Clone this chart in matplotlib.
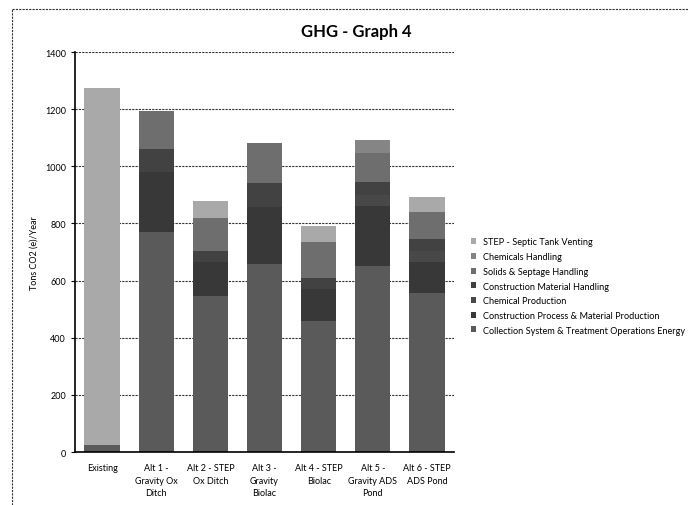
import matplotlib.pyplot as plt
import numpy as np

plt.rcParams['font.family'] = ['Lato', 'DejaVu Sans']

categories = ["Existing", "Alt 1 -\nGravity Ox\nDitch", "Alt 2 - STEP\nOx Ditch",
              "Alt 3 -\nGravity\nBiolac", "Alt 4 - STEP\nBiolac",
              "Alt 5 -\nGravity ADS\nPond", "Alt 6 - STEP\nADS Pond"]

# stacked from bottom to top
collection_energy = [25, 770, 546, 658, 458, 650, 555]
construction_process = [0, 210, 119, 200, 112, 210, 110]
chemical_production = [0, 0, 0, 0, 0, 40, 40]
construction_handling = [0, 80, 40, 83, 40, 45, 40]
solids_septage = [0, 135, 114, 140, 125, 102, 95]
chemicals_handling = [0, 0, 0, 0, 0, 45, 0]
step_venting = [1250, 0, 61, 0, 57, 0, 52]

series = [
    ("Collection System & Treatment Operations Energy", collection_energy, "#5a5a5a"),
    ("Construction Process & Material Production", construction_process, "#383838"),
    ("Chemical Production", chemical_production, "#484848"),
    ("Construction Material Handling", construction_handling, "#424242"),
    ("Solids & Septage Handling", solids_septage, "#6e6e6e"),
    ("Chemicals Handling", chemicals_handling, "#858585"),
    ("STEP - Septic Tank Venting", step_venting, "#a9a9a9"),
]

fig = plt.figure(figsize=(6.88, 5.06), dpi=100)
ax = fig.add_axes([0.109, 0.1047, 0.551, 0.7905])

x = np.arange(len(categories))
bottom = np.zeros(len(categories))
handles = []
for name, vals, col in series:
    b = ax.bar(x, vals, 0.65, bottom=bottom, color=col, label=name, zorder=2)
    handles.append(b)
    bottom += np.array(vals)

ax.set_ylim(0, 1400)
ax.set_xlim(-0.5, 6.5)
ax.set_yticks(range(0, 1401, 200))
ax.set_xticks(x)
ax.set_xticklabels(categories, fontsize=6.5, linespacing=1.5)
ax.tick_params(axis='y', labelsize=6.5, length=3)
ax.tick_params(axis='x', length=0, pad=8)
ax.yaxis.grid(True, linestyle=(0, (2, 1)), color="#333333", linewidth=0.8, zorder=0)
for s in ["top", "right"]:
    ax.spines[s].set_visible(False)
ax.spines["left"].set_linewidth(1.2)
ax.spines["bottom"].set_linewidth(1.2)
ax.set_ylabel("Tons CO2 (e)/Year", fontsize=6.5)
ax.yaxis.set_label_coords(-0.095, 0.5)

fig.text(0.518, 0.937, "GHG - Graph 4", ha="center", va="center",
         fontsize=12, fontweight="bold")

fig.legend(handles[::-1], [s[0] for s in series[::-1]], loc="upper left",
           bbox_to_anchor=(0.672, 0.545), frameon=False, fontsize=6.6,
           handlelength=0.6, handleheight=0.6, handletextpad=0.8,
           labelspacing=0.62)

# outer chart border (scanned page edge)
fig.add_artist(plt.Line2D([0.017, 1.0], [0.980, 0.980], color="#333333",
                          linewidth=0.8, linestyle=(0, (2, 1))))
fig.add_artist(plt.Line2D([0.017, 0.017], [0.0, 0.980], color="#333333",
                          linewidth=0.8, linestyle=(0, (2, 1))))

plt.savefig("out.png", dpi=100)
